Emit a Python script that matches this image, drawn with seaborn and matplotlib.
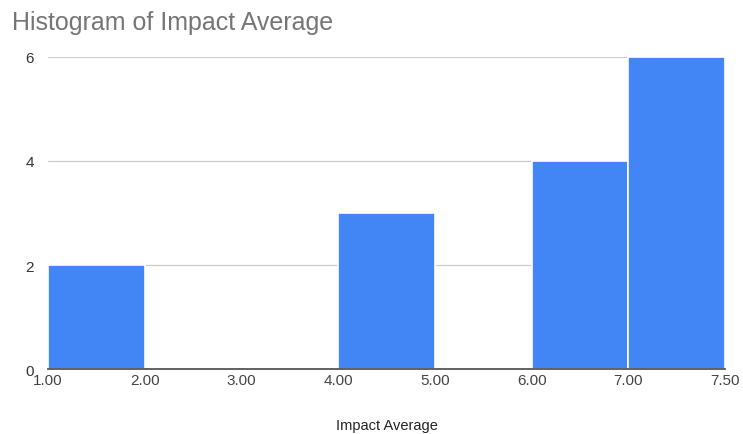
import matplotlib.pyplot as plt
import numpy as np
import pandas as pd
import seaborn as sns

# Bin edges as shown on the axis, and counts per bin
bin_labels = ["1.00", "2.00", "3.00", "4.00", "5.00", "6.00", "7.00", "7.50"]
counts = [2, 0, 0, 3, 0, 4, 6]

sns.set_theme(style="white")
plt.rcParams['font.family'] = ['Arial', 'Liberation Sans', 'DejaVu Sans']

fig = plt.figure(figsize=(7.43, 4.35), dpi=100)
ax = fig.add_axes([0.0646, 0.1494, 0.9112, 0.7173])

# Bins drawn as equal-width slots (as in the original chart)
df = pd.DataFrame({"slot": np.arange(len(counts)) + 0.5, "count": counts})
edges = list(range(len(bin_labels)))
sns.histplot(data=df, x="slot", weights="count", bins=edges, ax=ax,
             color="#4285F4", alpha=1, edgecolor="white", linewidth=1.2)

ax.set_xlim(0, len(counts))
ax.set_ylim(0, 6)
ax.set_xticks(edges)
ax.set_xticklabels(bin_labels, fontsize=11, color="#444444")
ax.set_yticks([0, 2, 4, 6])
ax.set_yticklabels(["0", "2", "4", "6"], fontsize=11, color="#333333")
ax.tick_params(axis="x", length=0, pad=3)
ax.tick_params(axis="y", length=0, pad=10)

ax.grid(axis="y", color="#cccccc", linewidth=0.9, zorder=0)
ax.set_axisbelow(True)
for side in ["top", "right", "left"]:
    ax.spines[side].set_visible(False)
ax.spines["bottom"].set_color("#555555")
ax.spines["bottom"].set_linewidth(1.3)
ax.spines["bottom"].set_zorder(3)

ax.set_xlabel("Impact Average", fontsize=10.5, color="#222222", labelpad=22)
ax.set_ylabel("")

fig.text(0.016, 0.948, "Histogram of Impact Average", fontsize=18,
         color="#757575", ha="left", va="center")

plt.savefig("out.png", dpi=100)
